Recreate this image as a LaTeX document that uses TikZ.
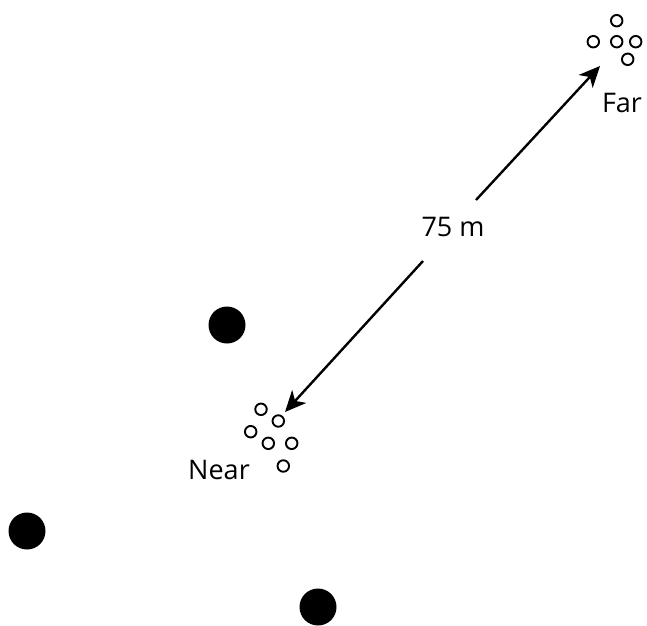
\documentclass[tikz,border=0pt]{standalone}
\usepackage{fontspec}
\setmainfont{Open Sans}
\usetikzlibrary{arrows.meta}
\begin{document}
\begin{tikzpicture}[x=1pt,y=-1pt,
  ring/.style={circle,draw=black,line width=1.9pt,minimum size=11.5pt,inner sep=0pt},
  blob/.style={circle,fill=black,minimum size=37pt,inner sep=0pt},
  lbl/.style={font=\fontsize{27}{30}\selectfont,inner sep=0pt},
  arr/.style={line width=2.4pt,-{Stealth[length=21pt,width=19pt,inset=6pt]}}]
\useasboundingbox (0,0) rectangle (647,625);
% far group
\node[ring] (f1) at (616.7,20.7) {};
\node[ring] (f2) at (593.3,41.7) {};
\node[ring] (f3) at (616.7,41.7) {};
\node[ring] (f4) at (635.7,41.7) {};
\node[ring] (f5) at (627.7,59.3) {};
% near group
\node[ring] (n1) at (261,409.3) {};
\node[ring] (n2) at (278.3,421) {};
\node[ring] (n3) at (250.7,431.7) {};
\node[ring] (n4) at (268.3,443.3) {};
\node[ring] (n5) at (291.7,443.3) {};
\node[ring] (n6) at (283.3,466) {};
% black dots
\node[blob] (b1) at (227,325) {};
\node[blob] (b2) at (27,531) {};
\node[blob] (b3) at (318,607) {};
% labels
\node[lbl] (far) at (622,103) {Far};
\node[lbl] (near) at (219,470) {Near};
\node[lbl] (dist) at (453,227) {75 m};
% arrow
\coordinate (pf) at (600,66);
\coordinate (pn) at (285,412);
\coordinate (gf) at (476,200);
\coordinate (gn) at (423,261);
\draw[arr] (gf) -- (pf);
\draw[arr] (gn) -- (pn);
\end{tikzpicture}
\end{document}
